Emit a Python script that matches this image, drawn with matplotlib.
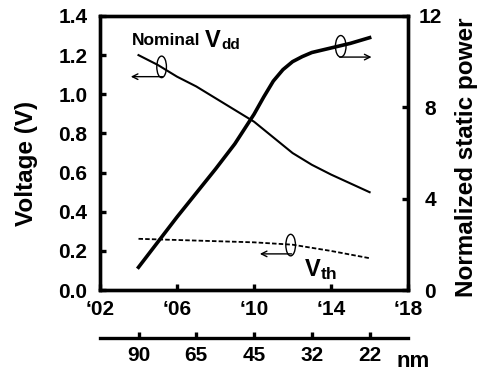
import matplotlib.pyplot as plt
from matplotlib.patches import Ellipse

plt.rcParams['font.family'] = 'Liberation Sans'
plt.rcParams['font.weight'] = 'bold'
plt.rcParams['axes.labelweight'] = 'bold'

# Data
years = [2004, 2005, 2006, 2007, 2008, 2009, 2010, 2011, 2012, 2013, 2014, 2015, 2016]
vdd = [1.20, 1.15, 1.09, 1.04, 0.98, 0.92, 0.86, 0.78, 0.70, 0.64, 0.59, 0.545, 0.50]
power_years = [2004, 2005, 2006, 2007, 2008, 2009, 2010, 2010.5, 2011, 2011.5,
               2012, 2012.5, 2013, 2014, 2015, 2016]
power = [1.0, 2.1, 3.2, 4.25, 5.3, 6.4, 7.7, 8.45, 9.15, 9.65,
         10.0, 10.22, 10.4, 10.6, 10.8, 11.05]
vth_years = [2004, 2006, 2008, 2010, 2012, 2014, 2016]
vth = [0.262, 0.256, 0.250, 0.244, 0.232, 0.200, 0.163]

year_ticks = [2002, 2006, 2010, 2014, 2018]
year_labels = ['\u201802', '\u201806', '\u201810', '\u201814', '\u201818']
node_years = [2004, 2007, 2010, 2013, 2016]
node_labels = ['90', '65', '45', '32', '22']

W, H = 483, 371


def px(x, y):
    return x / W, 1 - y / H


fig = plt.figure(figsize=(4.83, 3.71), dpi=100)
ax = fig.add_axes([0.207, 0.218, 0.638, 0.739])
ax2 = ax.twinx()

ax.plot(years, vdd, color='black', linewidth=1.5)
ax.plot(vth_years, vth, color='black', linewidth=1.3, linestyle=(0, (2.5, 1.2)))
ax2.plot(power_years, power, color='black', linewidth=2.6)

ax.set_xlim(2002, 2018)
ax.set_ylim(0, 1.4)
ax2.set_ylim(0, 12)

for a in (ax, ax2):
    for s in a.spines.values():
        s.set_linewidth(2.4)
ax.tick_params(axis='both', direction='in', length=4, width=2.4, labelsize=15)
ax.tick_params(axis='y', pad=9)
ax.tick_params(axis='x', pad=7)
ax2.tick_params(axis='y', direction='in', length=4, width=2.4, labelsize=15, pad=16)

ax.set_xticks(year_ticks)
ax.set_xticklabels(year_labels, fontweight='bold', fontsize=15)
ax.set_yticks([0, 0.2, 0.4, 0.6, 0.8, 1.0, 1.2, 1.4])
ax.set_yticklabels(['0.0', '0.2', '0.4', '0.6', '0.8', '1.0', '1.2', '1.4'],
                   fontweight='bold', fontsize=15)
ax2.set_yticks([0, 4, 8, 12])
ax2.set_yticklabels(['0', '4', '8', '12'], fontweight='bold', fontsize=15, ha='center')

# axis titles
fig.text(*px(26, 163), 'Voltage (V)', fontsize=17.5, fontweight='bold',
         rotation=90, ha='center', va='center')
fig.text(*px(466, 157), 'Normalized static power', fontsize=17.5, fontweight='bold',
         rotation=90, ha='center', va='center')

# annotations
fig.text(*px(132, 45), 'Nominal', fontsize=12.5, fontweight='bold', ha='left', va='baseline')
fig.text(*px(205, 47), 'V', fontsize=17, fontweight='bold', ha='left', va='baseline')
fig.text(*px(221, 49), 'dd', fontsize=11, fontweight='bold', ha='left', va='baseline')
fig.text(*px(305, 276), 'V', fontsize=17, fontweight='bold', ha='left', va='baseline')
fig.text(*px(321, 279), 'th', fontsize=12.5, fontweight='bold', ha='left', va='baseline')

# ellipse + arrow markers
for cx, cy, tx, ty in [(2005.2, 1.14, 2003.6, 1.09), (2011.9, 0.23, 2010.3, 0.185)]:
    ax.add_patch(Ellipse((cx, cy), 0.5, 0.11, fill=False, linewidth=1.0, color='black'))
    ax.annotate('', xy=(tx, ty), xytext=(cx + 0.05, ty),
                arrowprops=dict(arrowstyle='->', linewidth=1.0, color='black',
                                shrinkA=0, shrinkB=0))
ax.add_patch(Ellipse((2014.5, 1.245), 0.55, 0.11, fill=False, linewidth=1.0, color='black'))
ax.annotate('', xy=(2016.1, 1.19), xytext=(2014.45, 1.19),
            arrowprops=dict(arrowstyle='->', linewidth=1.0, color='black',
                            shrinkA=0, shrinkB=0))

# technology node axis
axn = fig.add_axes([0.207, 0.089, 0.638, 0.0001])
axn.set_xlim(2002, 2018)
for side in ('top', 'left', 'right'):
    axn.spines[side].set_visible(False)
axn.spines['bottom'].set_linewidth(2.4)
axn.set_yticks([])
axn.tick_params(axis='x', direction='in', length=4, width=2.4, labelsize=15, pad=6)
axn.set_xticks(node_years)
axn.set_xticklabels(node_labels, fontweight='bold', fontsize=15)
axn.patch.set_visible(False)
fig.text(*px(396, 367), 'nm', fontsize=16, fontweight='bold', ha='left', va='baseline')

for a in (ax, ax2, axn):
    for lab in a.get_xticklabels() + a.get_yticklabels():
        lab.set_fontweight('bold')

fig.savefig('out.png', dpi=100)
